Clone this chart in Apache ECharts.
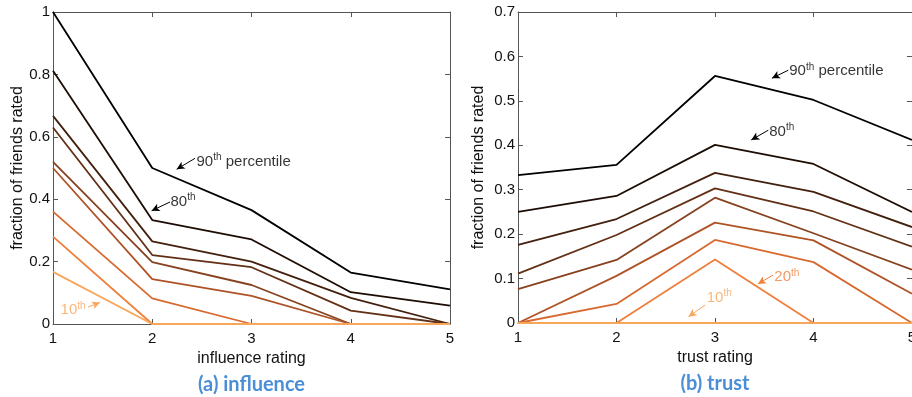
<!DOCTYPE html>
<html>
<head>
<meta charset="utf-8">
<script src="https://cdn.jsdelivr.net/npm/echarts@6/dist/echarts.min.js"></script>
<style>
  html, body { margin: 0; padding: 0; background: #fff; }
  #chart { width: 912px; height: 397px; }
</style>
</head>
<body>
<div id="chart"></div>
<script>
// Rating scale shared by both panels
const ratings = [1, 2, 3, 4, 5];
const percentileNames = ['10th', '20th', '30th', '40th', '50th', '60th', '70th', '80th', '90th'];

// Y-axis ticks of each panel
const influenceTicks = [0, 0.2, 0.4, 0.6, 0.8, 1];
const trustTicks = [0, 0.1, 0.2, 0.3, 0.4, 0.5, 0.6, 0.7];

// (a) influence: fraction of friends given each rating, per percentile
const influence10 = [0.167, 0, 0, 0, 0];
const influence20 = [0.28, 0, 0, 0, 0];
const influence30 = [0.36, 0.082, 0, 0, 0];
const influence40 = [0.50, 0.144, 0.09, 0, 0];
const influence50 = [0.52, 0.198, 0.125, 0, 0];
const influence60 = [0.63, 0.221, 0.182, 0.043, 0];
const influence70 = [0.667, 0.265, 0.20, 0.084, 0];
const influence80 = [0.812, 0.333, 0.271, 0.102, 0.059];
const influence90 = [1.0, 0.50, 0.365, 0.165, 0.111];

// (b) trust
const trust10 = [0, 0, 0, 0, 0];
const trust20 = [0, 0, 0.143, 0, 0];
const trust30 = [0, 0.043, 0.187, 0.137, 0];
const trust40 = [0, 0.106, 0.226, 0.186, 0.066];
const trust50 = [0.076, 0.142, 0.282, 0.202, 0.12];
const trust60 = [0.111, 0.198, 0.303, 0.251, 0.172];
const trust70 = [0.176, 0.234, 0.338, 0.295, 0.216];
const trust80 = [0.25, 0.286, 0.401, 0.358, 0.25];
const trust90 = [0.333, 0.356, 0.556, 0.502, 0.412];

const influenceSeries = [influence10, influence20, influence30, influence40, influence50,
                         influence60, influence70, influence80, influence90];
const trustSeries = [trust10, trust20, trust30, trust40, trust50,
                     trust60, trust70, trust80, trust90];

// copper-like ramp, light orange (10th) to black (90th)
const lineColors = ['#f7a65a', '#ef7f3a', '#d8692f', '#ae5326', '#86411e',
                    '#633016', '#43200e', '#1c0c04', '#000000'];

const FONT = '"Liberation Sans", Arial, Helvetica, sans-serif';
const CAPTION_FONT = 'Lato, "Open Sans", sans-serif';
const AXIS_COLOR = '#555555';
const TEXT_COLOR = '#111';
const CAPTION_COLOR = '#4a8fd6';

const chart = echarts.init(document.getElementById('chart'), null, { renderer: 'canvas' });

function bottomX(gridIndex, name, caption) {
  return {
    type: 'value', gridIndex, position: 'bottom', min: 1, max: 5, interval: 1,
    axisLine: { show: true, onZero: false, lineStyle: { color: AXIS_COLOR, width: 1 } },
    axisTick: { show: true, inside: true, length: 5, lineStyle: { color: AXIS_COLOR } },
    axisLabel: { show: true, margin: 7, fontSize: 15, fontFamily: FONT, color: TEXT_COLOR },
    splitLine: { show: false },
    name: '{t|' + name + '}\n{c|' + caption + '}',
    nameLocation: 'middle', nameGap: 18,
    nameTextStyle: {
      rich: {
        t: { fontSize: 16, fontFamily: FONT, color: TEXT_COLOR, lineHeight: 20 },
        c: { fontSize: 20, fontFamily: CAPTION_FONT, fontWeight: 'bold', color: CAPTION_COLOR, lineHeight: 32 }
      }
    }
  };
}
function topX(gridIndex) {
  return {
    type: 'value', gridIndex, position: 'top', min: 1, max: 5, interval: 1,
    axisLine: { show: true, onZero: false, lineStyle: { color: AXIS_COLOR, width: 1 } },
    axisTick: { show: true, inside: true, length: 5, lineStyle: { color: AXIS_COLOR } },
    axisLabel: { show: false }, splitLine: { show: false }
  };
}
function leftY(gridIndex, ticks, nameGap) {
  return {
    type: 'value', gridIndex, position: 'left',
    min: ticks[0], max: ticks[ticks.length - 1], interval: +(ticks[1] - ticks[0]).toFixed(3),
    axisLine: { show: true, onZero: false, lineStyle: { color: AXIS_COLOR, width: 1 } },
    axisTick: { show: true, inside: true, length: 5, lineStyle: { color: AXIS_COLOR } },
    axisLabel: { show: true, margin: 3, fontSize: 15, fontFamily: FONT, color: TEXT_COLOR },
    splitLine: { show: false },
    name: 'fraction of friends rated', nameLocation: 'middle', nameGap: nameGap,
    nameTextStyle: { fontSize: 16, fontFamily: FONT, color: TEXT_COLOR }
  };
}
function rightY(gridIndex, ticks) {
  return {
    type: 'value', gridIndex, position: 'right',
    min: ticks[0], max: ticks[ticks.length - 1], interval: +(ticks[1] - ticks[0]).toFixed(3),
    axisLine: { show: true, onZero: false, lineStyle: { color: AXIS_COLOR, width: 1 } },
    axisTick: { show: true, inside: true, length: 5, lineStyle: { color: AXIS_COLOR } },
    axisLabel: { show: false }, splitLine: { show: false }
  };
}

function percentileLines(seriesList, axisIndex, panel) {
  // darkest drawn first so the light low percentiles stay on top along the baseline
  const out = [];
  for (let i = seriesList.length - 1; i >= 0; i--) {
    out.push({
      name: panel + ' ' + percentileNames[i],
      type: 'line', xAxisIndex: axisIndex, yAxisIndex: axisIndex,
      data: ratings.map((r, k) => [r, seriesList[i][k]]),
      symbol: 'none', silent: true,
      lineStyle: { color: lineColors[i], width: 1.8 },
      itemStyle: { color: lineColors[i] },
      z: 2
    });
  }
  return out;
}

function richFor(color) {
  return {
    n: { fontSize: 15, fontFamily: FONT, color: color, lineHeight: 18 },
    s: { fontSize: 10, fontFamily: FONT, color: color, lineHeight: 10, verticalAlign: 'top' }
  };
}
function note(x, y, num, rest, color) {
  return {
    value: [x, y],
    label: {
      show: true, position: 'right', distance: 0,
      formatter: '{n|' + num + '}{s|th}' + (rest ? '{n|' + rest + '}' : ''),
      rich: richFor(color)
    }
  };
}
// pointer from the label (tail) to its curve (head), head drawn as an arrow
function arrow(from, to, color) {
  return [
    { coord: from, symbol: 'none', lineStyle: { color: color, width: 1, type: 'solid' } },
    { coord: to, symbol: 'arrow', symbolSize: [6, 8], itemStyle: { color: color } }
  ];
}

function annotationSeries(axisIndex, notes, arrows) {
  return {
    type: 'scatter', xAxisIndex: axisIndex, yAxisIndex: axisIndex,
    symbolSize: 1, itemStyle: { color: 'rgba(0,0,0,0)' }, silent: true, z: 5,
    data: notes,
    markLine: {
      silent: true, symbol: ['none', 'arrow'], symbolSize: 8,
      label: { show: false }, lineStyle: { color: '#000', width: 1, type: 'solid' },
      itemStyle: { color: '#000' },
      emphasis: { disabled: true },
      data: arrows
    }
  };
}

const option = {
  animation: false,
  backgroundColor: '#fff',
  grid: [
    { left: 53, top: 12, width: 397, height: 312, containLabel: false, outerBoundsMode: 'none' },
    { left: 518, top: 12, width: 394, height: 311, containLabel: false, outerBoundsMode: 'none' }
  ],
  xAxis: [
    bottomX(0, 'influence rating', '(a) influence'), topX(0),
    bottomX(1, 'trust rating', '(b) trust'), topX(1)
  ],
  yAxis: [
    leftY(0, influenceTicks, 27), rightY(0, influenceTicks),
    leftY(1, trustTicks, 31), rightY(1, trustTicks)
  ],
  series: [
    ...percentileLines(influenceSeries, 0, 'influence'),
    ...percentileLines(trustSeries, 2, 'trust'),
    annotationSeries(0,
      [
        note(2.441, 0.521, '90', ' percentile', '#000'),
        note(2.179, 0.392, '80', '', '#000'),
        note(1.071, 0.045, '10', '', lineColors[0])
      ],
      [
        arrow([2.431, 0.531], [2.246, 0.496], '#000'),
        arrow([2.179, 0.391], [1.994, 0.363], '#000'),
        arrow([1.353, 0.054], [1.474, 0.069], lineColors[0])
      ]),
    annotationSeries(2,
      [
        note(3.749, 0.567, '90', ' percentile', '#000'),
        note(3.546, 0.431, '80', '', '#000'),
        note(3.597, 0.104, '20', '', lineColors[1]),
        note(2.911, 0.057, '10', '', lineColors[0])
      ],
      [
        arrow([3.744, 0.569], [3.578, 0.551], '#000'),
        arrow([3.541, 0.434], [3.368, 0.412], '#000'),
        arrow([3.591, 0.108], [3.436, 0.088], lineColors[1]),
        arrow([2.900, 0.0405], [2.731, 0.0142], lineColors[0])
      ])
  ]
};

chart.setOption(option);
</script>
</body>
</html>
